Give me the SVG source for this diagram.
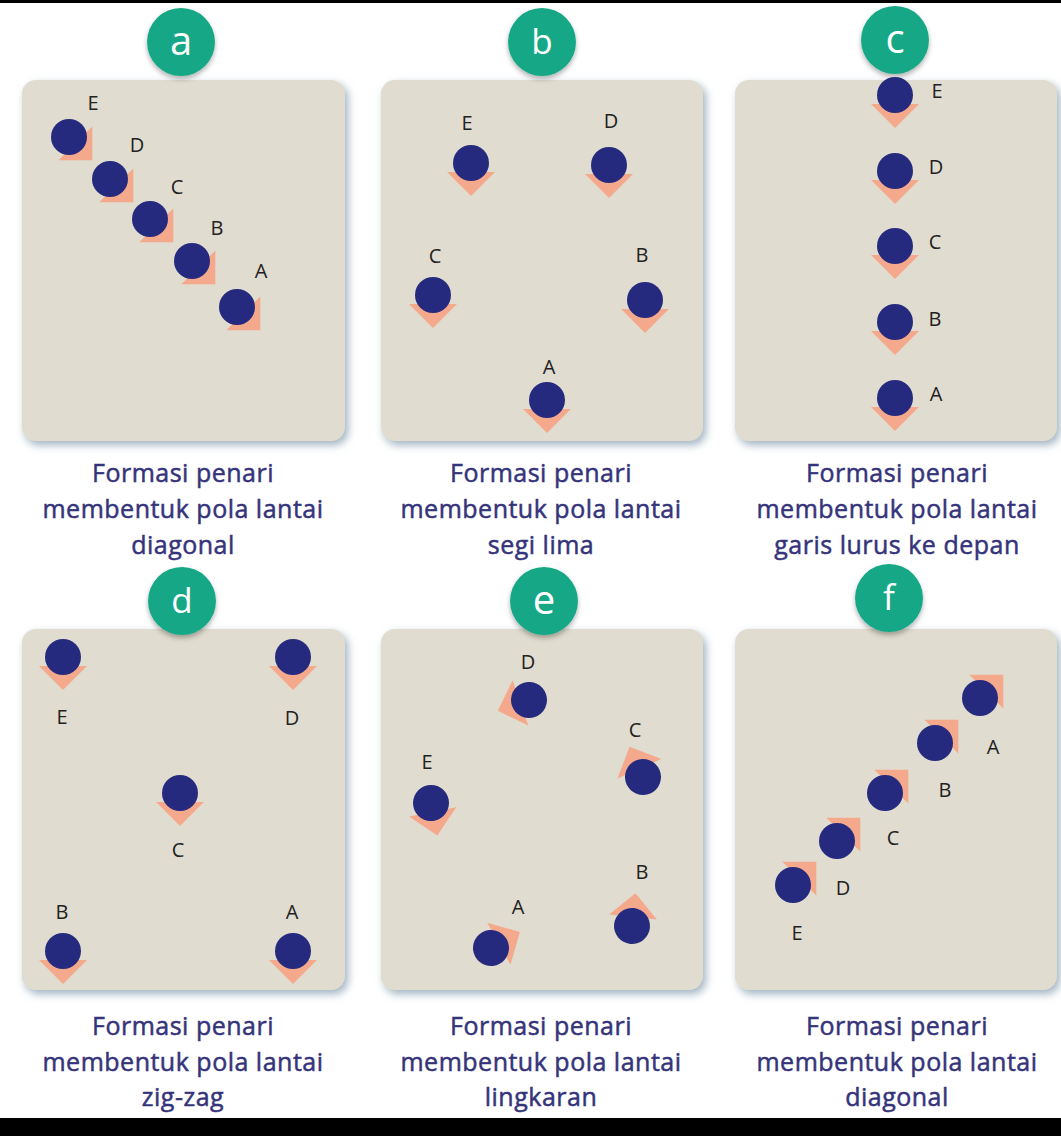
<svg xmlns="http://www.w3.org/2000/svg" xmlns:xlink="http://www.w3.org/1999/xlink" width="1061" height="1136" viewBox="0 0 1061 1136">
<defs>
<filter id="pshadow" x="-10%" y="-10%" width="125%" height="125%">
<feDropShadow dx="3" dy="4" stdDeviation="4" flood-color="#8ea5b6" flood-opacity="0.85"/>
</filter>
<filter id="bshadow" x="-30%" y="-30%" width="160%" height="170%">
<feDropShadow dx="0" dy="3" stdDeviation="2.5" flood-color="#000" flood-opacity="0.3"/>
</filter>
<g id="dancer">
<polygon points="-24,9 24,9 0,33" fill="#f5a98c"/>
<circle cx="0" cy="0" r="18" fill="#262a7e"/>
</g>
</defs>
<style>
.panel{fill:#e0dccf;filter:url(#pshadow)}
.badge{fill:#17a886;filter:url(#bshadow)}
.bl{font-family:"Open Sans","DejaVu Sans",sans-serif;font-size:35px;fill:#ffffff;text-anchor:middle}
.bs{font-size:40px}
.lbl{font-family:"Open Sans","DejaVu Sans",sans-serif;font-size:20px;fill:#222222;text-anchor:middle}
.cap{font-family:"Open Sans","Noto Sans",sans-serif;font-size:25px;letter-spacing:0.5px;fill:#35347a;stroke:#35347a;stroke-width:0.5px;text-anchor:middle}
</style>
<rect x="0" y="0" width="1061" height="1136" fill="#ffffff"/>
<rect x="0" y="0" width="1061" height="3" fill="#000000"/>
<rect x="0" y="1118" width="1061" height="18" fill="#000000"/>

<g id="connectors"></g>

<g id="panel-a">
<rect class="panel" x="22" y="80" width="323" height="361" rx="14"/>
<circle class="badge" cx="181" cy="42" r="34"/>
<text class="bl bs" x="181" y="55">a</text>
<use xlink:href="#dancer" transform="translate(69,137) rotate(-45)"/>
<use xlink:href="#dancer" transform="translate(110,179) rotate(-45)"/>
<use xlink:href="#dancer" transform="translate(150,219) rotate(-45)"/>
<use xlink:href="#dancer" transform="translate(192,261) rotate(-45)"/>
<use xlink:href="#dancer" transform="translate(237,307) rotate(-45)"/>
<text class="lbl" x="93" y="110">E</text>
<text class="lbl" x="137" y="152">D</text>
<text class="lbl" x="177" y="194">C</text>
<text class="lbl" x="217" y="235">B</text>
<text class="lbl" x="261" y="278">A</text>
<text class="cap" x="183" y="482">Formasi penari</text>
<text class="cap" x="183" y="518">membentuk pola lantai</text>
<text class="cap" x="183" y="554">diagonal</text>
</g>

<g id="panel-b">
<rect class="panel" x="381" y="80" width="322" height="361" rx="14"/>
<circle class="badge" cx="542" cy="42" r="34"/>
<text class="bl" x="542" y="54">b</text>
<use xlink:href="#dancer" transform="translate(471,163)"/>
<use xlink:href="#dancer" transform="translate(609,165)"/>
<use xlink:href="#dancer" transform="translate(433,295)"/>
<use xlink:href="#dancer" transform="translate(645,300)"/>
<use xlink:href="#dancer" transform="translate(547,400)"/>
<text class="lbl" x="467" y="130">E</text>
<text class="lbl" x="611" y="128">D</text>
<text class="lbl" x="435" y="263">C</text>
<text class="lbl" x="642" y="262">B</text>
<text class="lbl" x="549" y="374">A</text>
<text class="cap" x="541" y="482">Formasi penari</text>
<text class="cap" x="541" y="518">membentuk pola lantai</text>
<text class="cap" x="541" y="554">segi lima</text>
</g>

<g id="panel-c">
<rect class="panel" x="735" y="80" width="322" height="361" rx="14"/>
<circle class="badge" cx="895" cy="40" r="34"/>
<text class="bl bs" x="895" y="53">c</text>
<use xlink:href="#dancer" transform="translate(895,95)"/>
<use xlink:href="#dancer" transform="translate(895,171)"/>
<use xlink:href="#dancer" transform="translate(895,246)"/>
<use xlink:href="#dancer" transform="translate(895,322)"/>
<use xlink:href="#dancer" transform="translate(895,398)"/>
<text class="lbl" x="937" y="98">E</text>
<text class="lbl" x="936" y="174">D</text>
<text class="lbl" x="935" y="249">C</text>
<text class="lbl" x="935" y="326">B</text>
<text class="lbl" x="936" y="401">A</text>
<text class="cap" x="897" y="482">Formasi penari</text>
<text class="cap" x="897" y="518">membentuk pola lantai</text>
<text class="cap" x="897" y="554">garis lurus ke depan</text>
</g>

<g id="panel-d">
<rect class="panel" x="22" y="629" width="323" height="361" rx="14"/>
<circle class="badge" cx="182" cy="601" r="34"/>
<text class="bl" x="182" y="613">d</text>
<use xlink:href="#dancer" transform="translate(63,657)"/>
<use xlink:href="#dancer" transform="translate(293,657)"/>
<use xlink:href="#dancer" transform="translate(180,793)"/>
<use xlink:href="#dancer" transform="translate(63,951)"/>
<use xlink:href="#dancer" transform="translate(293,951)"/>
<text class="lbl" x="62" y="724">E</text>
<text class="lbl" x="292" y="725">D</text>
<text class="lbl" x="178" y="857">C</text>
<text class="lbl" x="62" y="919">B</text>
<text class="lbl" x="292" y="919">A</text>
<text class="cap" x="183" y="1035">Formasi penari</text>
<text class="cap" x="183" y="1071">membentuk pola lantai</text>
<text class="cap" x="183" y="1106">zig-zag</text>
</g>

<g id="panel-e">
<rect class="panel" x="381" y="629" width="322" height="361" rx="14"/>
<circle class="badge" cx="544" cy="601" r="34"/>
<text class="bl bs" x="544" y="614">e</text>
<use xlink:href="#dancer" transform="translate(529,700) rotate(71)"/>
<use xlink:href="#dancer" transform="translate(431,803) rotate(-11)"/>
<use xlink:href="#dancer" transform="translate(643,777) rotate(156)"/>
<use xlink:href="#dancer" transform="translate(632,926) rotate(186)"/>
<use xlink:href="#dancer" transform="translate(491,948) rotate(241)"/>
<text class="lbl" x="528" y="669">D</text>
<text class="lbl" x="427" y="769">E</text>
<text class="lbl" x="635" y="737">C</text>
<text class="lbl" x="642" y="879">B</text>
<text class="lbl" x="518" y="914">A</text>
<text class="cap" x="541" y="1035">Formasi penari</text>
<text class="cap" x="541" y="1071">membentuk pola lantai</text>
<text class="cap" x="541" y="1106">lingkaran</text>
</g>

<g id="panel-f">
<rect class="panel" x="735" y="629" width="322" height="361" rx="14"/>
<circle class="badge" cx="889" cy="598" r="34"/>
<text class="bl" x="889" y="610">f</text>
<use xlink:href="#dancer" transform="translate(980,698) rotate(-135)"/>
<use xlink:href="#dancer" transform="translate(935,743) rotate(-135)"/>
<use xlink:href="#dancer" transform="translate(885,793) rotate(-135)"/>
<use xlink:href="#dancer" transform="translate(837,841) rotate(-135)"/>
<use xlink:href="#dancer" transform="translate(793,885) rotate(-135)"/>
<text class="lbl" x="993" y="754">A</text>
<text class="lbl" x="945" y="797">B</text>
<text class="lbl" x="893" y="845">C</text>
<text class="lbl" x="843" y="895">D</text>
<text class="lbl" x="797" y="940">E</text>
<text class="cap" x="897" y="1035">Formasi penari</text>
<text class="cap" x="897" y="1071">membentuk pola lantai</text>
<text class="cap" x="897" y="1106">diagonal</text>
</g>
</svg>
